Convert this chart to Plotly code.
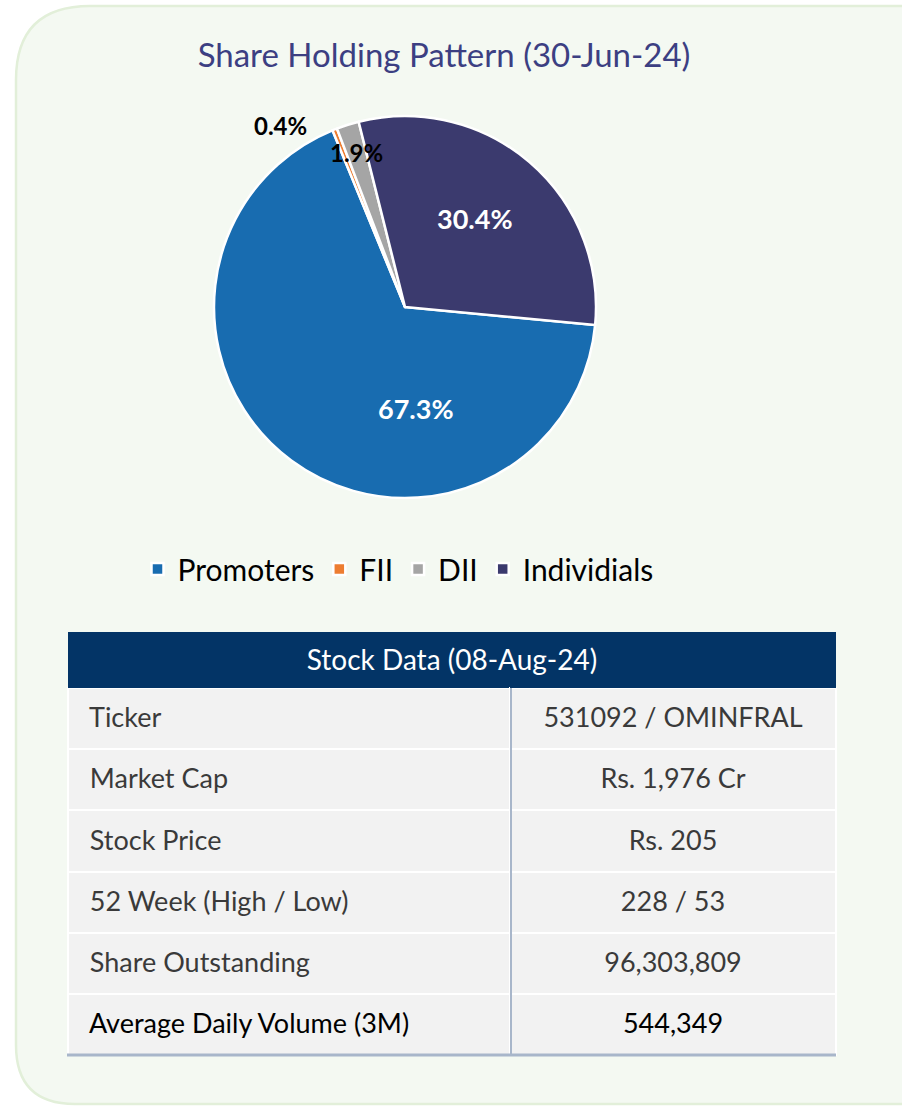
import plotly.graph_objects as go

W, H = 902, 1106

# share holding pattern (30-Jun-24)
holders = ["Promoters", "FII", "DII", "Individials"]
holding_pct = [67.3, 0.4, 1.9, 30.4]
slice_colors = ["#186cb0", "#ed7d31", "#a5a5a5", "#3b3a6e"]

# stock data (08-Aug-24)
stock_fields = ["Ticker", "Market Cap", "Stock Price", "52 Week (High / Low)",
                "Share Outstanding", "Average Daily Volume (3M)"]
stock_values = ["531092 / OMINFRAL", "Rs. 1,976 Cr", "Rs. 205", "228 / 53",
                "96,303,809", "544,349"]


def px_x(p):
    return p / W


def px_y(p):
    return 1 - p / H


fig = go.Figure()

fig.add_trace(go.Pie(
    labels=holders,
    values=holding_pct,
    sort=False,
    direction="clockwise",
    rotation=95.4,
    marker=dict(colors=slice_colors, line=dict(color="white", width=2.5)),
    textinfo="none",
    hoverinfo="label+percent",
    domain=dict(x=[px_x(214), px_x(596)], y=[px_y(498), px_y(116)]),
    showlegend=True,
))

n = len(stock_fields)
text_colors = ["#3a3a3a"] * (n - 1) + ["black"]
row_h = 61.2
tbl_x = [px_x(68), px_x(836)]
clear = "rgba(0,0,0,0)"

# cell backgrounds (header row is the navy band)
fig.add_trace(go.Table(
    domain=dict(x=tbl_x, y=[px_y(1056), px_y(632)]),
    columnwidth=[442, 326],
    header=dict(values=["", ""], fill_color="#033466", line=dict(color="#033466", width=0),
                height=56),
    cells=dict(values=[[""] * n, [""] * n], fill_color="#f2f2f2",
               line=dict(color="white", width=2), height=row_h),
    hoverinfo="skip",
))

# cell texts, nudged down to sit mid-row
fig.add_trace(go.Table(
    domain=dict(x=tbl_x, y=[px_y(1067), px_y(643)]),
    columnwidth=[442, 326],
    header=dict(values=["", ""], fill_color=clear, line=dict(color=clear, width=0), height=56),
    cells=dict(values=[["\u00a0\u00a0" + s for s in stock_fields], stock_values],
               fill_color=clear,
               line=dict(color=clear, width=0),
               align=["left", "center"],
               height=row_h,
               font=dict(family="Lato", size=27, color=[text_colors, text_colors])),
))

# header text of the table
fig.add_trace(go.Table(
    domain=dict(x=tbl_x, y=[px_y(697), px_y(641)]),
    header=dict(values=["Stock Data (08-Aug-24)"], fill_color=clear,
                line=dict(color=clear, width=0), height=56, align="center",
                font=dict(family="Lato", size=28, color="white")),
    cells=dict(values=[[]]),
))

shapes = [
    # rounded panel background
    dict(type="path", xref="paper", yref="paper", layer="below",
         path=(f"M {px_x(920)} {px_y(6)} L {px_x(90)} {px_y(6)} "
               f"Q {px_x(16)} {px_y(6)} {px_x(16)} {px_y(80)} "
               f"L {px_x(16)} {px_y(1045)} "
               f"Q {px_x(16)} {px_y(1104)} {px_x(75)} {px_y(1104)} "
               f"L {px_x(920)} {px_y(1104)} Z"),
         fillcolor="#f4f9f2", line=dict(color="#e2efd9", width=2.5)),
    # column divider
    dict(type="line", xref="paper", yref="paper",
         x0=px_x(511), x1=px_x(511), y0=px_y(688), y1=px_y(1055),
         line=dict(color="#a8b6ca", width=2)),
    # bottom rule
    dict(type="line", xref="paper", yref="paper",
         x0=px_x(67), x1=px_x(836), y0=px_y(1055), y1=px_y(1055),
         line=dict(color="#a8b6ca", width=3)),
]

# slice labels, placed where the reference puts them
label_spots = [(416, 408, "white", 27), (280, 125, "black", 24),
               (356, 153, "black", 24), (475, 218, "white", 27)]
annotations = []
for pct, (lx, ly, col, sz) in zip(holding_pct, label_spots):
    annotations.append(dict(
        text=f"<b>{pct:.1f}%</b>", x=px_x(lx), y=px_y(ly), xref="paper", yref="paper",
        showarrow=False, xanchor="center", yanchor="middle",
        font=dict(family="Lato", size=sz, color=col)))

fig.update_layout(
    width=W, height=H,
    margin=dict(l=0, r=0, t=0, b=0),
    paper_bgcolor="white",
    plot_bgcolor="white",
    font=dict(family="Lato", color="#222222"),
    title=dict(text="Share Holding Pattern (30-Jun-24)", x=px_x(444), xanchor="center",
               y=px_y(55), yanchor="middle",
               font=dict(family="Lato", size=33, color="#3c3f82")),
    legend=dict(orientation="h", x=px_x(398), xanchor="center", y=px_y(569),
                yanchor="middle", font=dict(family="Lato", size=30, color="black"),
                bgcolor="rgba(0,0,0,0)", itemwidth=30),
    shapes=shapes,
    annotations=annotations,
)

fig.write_html("out.html", config={"displayModeBar": False},
               post_script="document.body.style.margin='0';")
